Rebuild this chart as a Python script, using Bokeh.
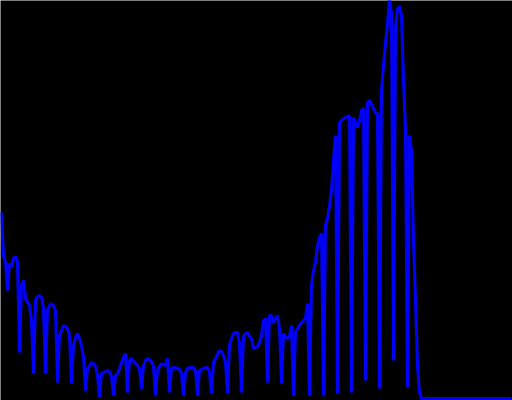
from bokeh.plotting import figure
from bokeh.models import Range1d
from bokeh.embed import file_html
from bokeh.resources import INLINE

# Daily values
values_early = [
    186, 143, 136, 108, 135, 132, 140, 142, 136, 46,
    113, 118, 100, 96, 93, 78, 25, 98, 102, 103,
    101, 90, 25, 88, 93, 95, 93, 88, 16, 63,
    68, 73, 72, 70, 63, 15, 53, 61, 65, 60,
    53, 41, 8, 30, 33, 36, 35, 32, 23, 1,
]
values_middle = [
    25, 26, 27, 28, 27, 22, 3, 23, 25, 30,
    36, 41, 45, 6, 38, 40, 37, 35, 33, 30,
    10, 33, 38, 40, 39, 37, 32, 3, 28, 32,
    35, 34, 33, 40, 6, 30, 31, 31, 30, 29,
    25, 3, 26, 30, 31, 31, 31, 28, 3, 28,
    29, 30, 31, 31, 26, 5, 36, 40, 44, 48,
    47, 43, 36, 5, 53, 60, 65, 66, 66, 55,
    6, 62, 65, 66, 62, 60, 50, 51, 52, 56,
    63, 78, 80, 16, 83, 83, 76, 80, 83, 70,
    15, 65, 61, 60, 62, 73, 3, 66, 70, 73,
    76, 78, 80, 95, 3,
]
values_late = [
    113, 128, 136, 153, 161, 165, 3, 173, 180, 193,
    208, 238, 263, 5, 276, 278, 280, 281, 282, 283,
    6, 281, 276, 271, 278, 288, 290, 18, 296, 298,
    294, 290, 286, 285, 10, 308, 333, 355, 375, 400,
    385, 38, 370, 390, 392, 383, 318, 268, 11, 263,
    248, 158, 98, 33, 6,
]
values_tail = [0] * 46

values = values_early + values_middle + values_late + values_tail
days = list(range(len(values)))

p = figure(width=512, height=400, output_backend="svg", toolbar_location=None,
           x_range=Range1d(-0.5, 255.5), y_range=Range1d(-2, 398),
           min_border=0, min_border_left=0, min_border_right=0,
           min_border_top=0, min_border_bottom=0)
p.background_fill_color = "black"
p.border_fill_color = "black"
p.outline_line_color = None
p.xaxis.visible = False
p.yaxis.visible = False
p.xgrid.visible = False
p.ygrid.visible = False

p.line(days, values, line_color="#0000ff", line_width=3)

open("out.html", "w").write(file_html(p, INLINE))
